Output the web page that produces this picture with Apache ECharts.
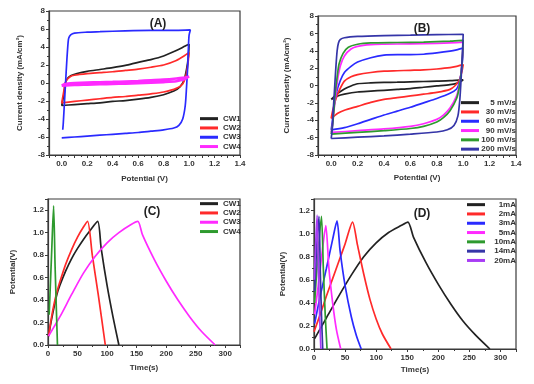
<!DOCTYPE html>
<html><head><meta charset="utf-8">
<script src="https://cdn.jsdelivr.net/npm/echarts@6/dist/echarts.min.js"></script>
<style>html,body{margin:0;padding:0;background:#fff}#c{width:534px;height:384px}</style>
</head><body><div id="c"></div>
<script>
// ---- Panel A: CV curves of CW1..CW4 (Potential V, Current density mA/cm2)
const A_names = ['CW1','CW2','CW3','CW4'];
const A_CW1 = [[0.02,-1.1],[0.025,-0.2],[0.04,0.4],[0.07,0.8],[0.12,1.05],[0.2,1.3],[0.3,1.5],[0.4,1.7],[0.5,1.95],[0.6,2.3],[0.7,2.6],[0.8,3.0],[0.9,3.6],[0.97,4.1],[1.0,4.3],[0.995,3.0],[0.98,1.5],[0.96,0.3],[0.93,-0.4],[0.88,-0.9],[0.8,-1.3],[0.7,-1.6],[0.6,-1.8],[0.5,-1.95],[0.4,-2.05],[0.3,-2.2],[0.2,-2.3],[0.1,-2.4],[0.0,-2.5],[0.01,-1.8],[0.02,-1.1]];
const A_CW2 = [[0.02,-0.6],[0.03,0.1],[0.05,0.5],[0.08,0.8],[0.14,0.95],[0.2,1.05],[0.3,1.15],[0.4,1.25],[0.5,1.4],[0.6,1.55],[0.7,1.75],[0.8,2.0],[0.9,2.5],[0.96,3.0],[1.0,3.4],[0.99,2.0],[0.975,0.8],[0.95,-0.1],[0.9,-0.6],[0.8,-1.0],[0.7,-1.2],[0.6,-1.35],[0.5,-1.5],[0.4,-1.6],[0.3,-1.75],[0.2,-1.9],[0.1,-2.05],[0.0,-2.2],[0.01,-1.4],[0.02,-0.6]];
const A_CW3 = [[0.0,-6.1],[0.1,-6.0],[0.2,-5.9],[0.3,-5.8],[0.4,-5.7],[0.5,-5.6],[0.6,-5.5],[0.7,-5.35],[0.8,-5.2],[0.88,-5.0],[0.92,-4.7],[0.95,-4.0],[0.97,-2.5],[0.98,-0.5],[0.99,2.0],[0.995,4.0],[1.0,5.3],[1.01,5.9],[0.9,5.85],[0.7,5.85],[0.5,5.8],[0.3,5.7],[0.2,5.65],[0.1,5.55],[0.07,5.35],[0.055,5.0],[0.05,4.5],[0.04,2.5],[0.03,0.0],[0.02,-2.5],[0.012,-4.5],[0.008,-5.2]];
const A_CW4 = [[0.0,-0.3],[0.02,-0.15],[0.05,-0.05],[0.1,0.0],[0.2,0.05],[0.3,0.08],[0.4,0.12],[0.5,0.17],[0.6,0.22],[0.7,0.3],[0.8,0.38],[0.9,0.5],[0.95,0.58],[1.0,0.7],[0.98,0.55],[0.95,0.35],[0.9,0.2],[0.8,0.1],[0.7,0.03],[0.6,-0.02],[0.5,-0.07],[0.4,-0.1],[0.3,-0.14],[0.2,-0.18],[0.1,-0.22],[0.0,-0.3]];

// ---- Panel B: CV curves at different scan rates
const B_names = ['5 mV/s','30 mV/s','60 mV/s','90 mV/s','100 mV/s','200 mV/s'];
const B_5 = [[0.0,-1.6],[0.02,-1.3],[0.05,-0.9],[0.1,-0.4],[0.15,-0.05],[0.2,0.2],[0.3,0.3],[0.4,0.35],[0.5,0.38],[0.6,0.42],[0.7,0.46],[0.8,0.5],[0.9,0.55],[1.0,0.65],[0.98,0.45],[0.95,0.25],[0.9,0.1],[0.8,-0.05],[0.7,-0.2],[0.6,-0.35],[0.5,-0.45],[0.4,-0.55],[0.3,-0.65],[0.2,-0.75],[0.1,-1.0],[0.05,-1.2],[0.0,-1.6]];
const B_30 = [[0.0,-3.8],[0.01,-3.0],[0.03,-1.8],[0.06,-0.6],[0.1,0.5],[0.15,1.0],[0.2,1.25],[0.3,1.5],[0.4,1.65],[0.5,1.7],[0.6,1.75],[0.7,1.8],[0.8,1.9],[0.9,2.05],[0.95,2.2],[1.0,2.4],[0.99,1.6],[0.97,0.6],[0.94,0.0],[0.9,-0.45],[0.8,-0.8],[0.7,-1.0],[0.6,-1.2],[0.5,-1.4],[0.4,-1.6],[0.3,-1.95],[0.2,-2.4],[0.1,-2.85],[0.05,-3.2],[0.0,-3.8]];
const B_60 = [[0.0,-5.1],[0.01,-4.0],[0.02,-2.5],[0.04,-0.8],[0.07,0.6],[0.1,1.5],[0.15,2.2],[0.2,2.7],[0.3,3.2],[0.4,3.5],[0.5,3.55],[0.6,3.55],[0.7,3.6],[0.8,3.75],[0.9,3.95],[0.95,4.1],[1.0,4.3],[0.995,3.0],[0.985,1.5],[0.97,0.3],[0.95,-0.4],[0.9,-0.9],[0.8,-1.5],[0.7,-2.0],[0.6,-2.5],[0.5,-2.95],[0.4,-3.4],[0.3,-3.9],[0.2,-4.4],[0.1,-4.85],[0.0,-5.1]];
const B_90 = [[0.0,-5.4],[0.01,-4.5],[0.02,-3.0],[0.035,-1.0],[0.05,0.8],[0.07,2.3],[0.1,3.4],[0.15,4.2],[0.2,4.5],[0.3,4.7],[0.4,4.75],[0.6,4.8],[0.8,4.85],[0.9,4.9],[1.0,5.0],[0.995,3.5],[0.985,1.5],[0.97,0.0],[0.95,-1.2],[0.9,-2.6],[0.85,-3.4],[0.8,-3.9],[0.7,-4.4],[0.6,-4.7],[0.4,-5.0],[0.2,-5.2],[0.0,-5.4]];
const B_100 = [[0.0,-5.6],[0.01,-4.6],[0.02,-3.0],[0.03,-1.0],[0.045,1.0],[0.06,2.5],[0.09,3.7],[0.13,4.4],[0.2,4.75],[0.3,4.9],[0.5,4.95],[0.7,5.0],[0.9,5.1],[1.0,5.2],[0.995,3.5],[0.985,1.5],[0.97,-0.2],[0.95,-1.5],[0.9,-2.9],[0.85,-3.7],[0.8,-4.2],[0.7,-4.7],[0.6,-4.95],[0.4,-5.2],[0.2,-5.4],[0.0,-5.6]];
const B_200 = [[0.0,-6.1],[0.2,-5.95],[0.4,-5.8],[0.6,-5.6],[0.8,-5.35],[0.88,-5.1],[0.93,-4.6],[0.96,-3.5],[0.975,-1.5],[0.985,1.0],[0.995,4.0],[1.0,5.9],[0.8,5.85],[0.6,5.8],[0.4,5.75],[0.2,5.65],[0.1,5.5],[0.07,5.3],[0.055,4.9],[0.045,4.0],[0.035,2.0],[0.025,-0.5],[0.015,-3.0],[0.008,-5.0],[0.0,-6.1]];

// ---- Panel C: GCD curves of CW1..CW4 (Time s, Potential V)
const C_CW1 = [[1,0.08],[5,0.2],[10,0.33],[15,0.45],[20,0.53],[30,0.66],[40,0.77],[50,0.86],[60,0.94],[70,1.01],[84,1.1],[90,0.86],[100,0.53],[110,0.25],[120,0.0]];
const C_CW2 = [[1,0.08],[5,0.22],[10,0.36],[15,0.47],[20,0.56],[30,0.72],[40,0.85],[50,0.96],[60,1.05],[67,1.1],[75,0.8],[85,0.45],[97,0.0]];
const C_CW3 = [[1,0.08],[20,0.25],[40,0.45],[60,0.64],[80,0.79],[100,0.91],[120,1.0],[140,1.07],[152,1.1],[160,0.98],[180,0.76],[200,0.57],[220,0.4],[240,0.25],[260,0.12],[283,0.0]];
const C_CW4 = [[2,0.27],[6,0.8],[9.5,1.24],[12,0.7],[16,0.0]];

// ---- Panel D: GCD at different currents
const D_names = ['1mA','2mA','3mA','5mA','10mA','14mA','20mA'];
const D_1 = [[1,0.09],[20,0.27],[40,0.46],[60,0.64],[80,0.8],[100,0.92],[120,1.01],[140,1.07],[151,1.1],[160,0.97],[180,0.75],[200,0.56],[220,0.39],[240,0.24],[260,0.12],[283,0.0]];
const D_2 = [[0,0.15],[10,0.3],[20,0.46],[30,0.61],[40,0.76],[50,0.91],[62,1.1],[70,0.9],[80,0.65],[90,0.43],[100,0.26],[110,0.13],[124,0.0]];
const D_3 = [[1,0.22],[10,0.46],[20,0.7],[30,0.95],[37,1.11],[42,0.85],[50,0.55],[60,0.28],[68,0.12],[76,0.0]];
const D_5 = [[1,0.3],[8,0.6],[14,0.88],[19,1.07],[24,0.7],[30,0.4],[36,0.17],[43,0.0]];
const D_10 = [[1,0.4],[6,0.8],[12,1.15],[15,0.7],[18,0.3],[21,0.0]];
const D_14 = [[1,0.5],[4,0.85],[8,1.15],[10,0.7],[12,0.3],[14,0.0]];
const D_20 = [[0.5,0.6],[3,0.95],[5,1.16],[7,0.7],[9,0.3],[11,0.0]];

const FONT = 'Liberation Sans, Arial, sans-serif';
const AX = '#3a3a3a';
const BLK='#222222', RED='#ff2a2a', BLU='#2a2aff', MAG='#ff2aff', GRN='#2e9a2e', NAV='#3535a8', PUR='#a83cf5';
const A_colors = [BLK,RED,BLU,MAG];
const B_colors = [BLK,RED,BLU,MAG,GRN,NAV];
const C_colors = [BLK,RED,MAG,GRN];
const D_colors = [BLK,RED,BLU,MAG,GRN,NAV,PUR];

function grid(l,t,w,h){return {left:l,top:t,width:w,height:h,show:true,borderColor:AX,borderWidth:1.2,backgroundColor:'#fff'};}
function xAx(gi,min,max,interval,name,gap,fmt){
  return {type:'value',gridIndex:gi,min:min,max:max,interval:interval,name:name,nameLocation:'middle',nameGap:gap,
    nameTextStyle:{fontFamily:FONT,fontWeight:'bold',fontSize:8,color:'#333'},
    axisLine:{show:true,onZero:false,lineStyle:{color:AX,width:1.2}},
    axisTick:{show:true,inside:false,length:3,lineStyle:{color:AX}},
    minorTick:{show:true,splitNumber:2,length:2,lineStyle:{color:AX}},
    splitLine:{show:false},
    axisLabel:{interval:0,fontFamily:FONT,fontWeight:'bold',fontSize:8,color:'#333',margin:5,formatter:fmt}};
}
function yAx(gi,min,max,interval,name,gap,fmt){
  return {type:'value',gridIndex:gi,min:min,max:max,interval:interval,name:name,nameLocation:'middle',nameGap:gap,
    nameTextStyle:{fontFamily:FONT,fontWeight:'bold',fontSize:8,color:'#333'},
    axisLine:{show:true,onZero:false,lineStyle:{color:AX,width:1.2}},
    axisTick:{show:true,inside:false,length:3,lineStyle:{color:AX}},
    minorTick:{show:true,splitNumber:2,length:2,lineStyle:{color:AX}},
    splitLine:{show:false},
    axisLabel:{fontFamily:FONT,fontWeight:'bold',fontSize:8,color:'#333',margin:4,formatter:fmt}};
}
const fmtCV_X = v => { if (v < -0.001) return ''; const k = Math.round(v*10); return (k%2===0) ? (k/10).toFixed(1) : ''; };
const fmtInt = v => String(Math.round(v));
const fmtV = v => v > 1.25 ? '' : v.toFixed(1);
const fmtT = v => v > 310 ? '' : String(Math.round(v));

function ser(name,data,color,gi,w){
  return {type:'line',name:name,data:data,xAxisIndex:gi,yAxisIndex:gi,showSymbol:false,symbol:'none',
    smooth:0.25,lineStyle:{color:color,width:w||1.7},itemStyle:{color:color},z:3};
}
function legend(names,colors,left,top,right,w){
  const o = {data:names.map((n,i)=>({name:n,itemStyle:{color:colors[i]}})),orient:'vertical',icon:'rect',itemWidth:18,itemHeight:3,itemGap:0,
    top:top,left:left,textStyle:{fontFamily:FONT,fontWeight:'bold',fontSize:8,color:'#333',lineHeight:9.3},padding:0};
  if (right) { o.formatter = n => '{a|' + n + '}'; o.textStyle.rich = {a:{width:w,align:'right',fontFamily:FONT,fontWeight:'bold',fontSize:8,color:'#333',lineHeight:9.3}}; }
  return o;
}

const option = {
  animation:false,
  backgroundColor:'#ffffff',
  grid:[grid(49,11,191,144), grid(318,16,198,139), grid(48,199,192,146), grid(314,199,202,150)],
  xAxis:[
    xAx(0,-0.1,1.4,0.1,'Potential (V)',20,fmtCV_X),
    xAx(1,-0.1,1.4,0.1,'Potential (V)',19,fmtCV_X),
    xAx(2,0,325,50,'Time(s)',19,fmtT),
    xAx(3,0,325,50,'Time(s)',17,fmtT)
  ],
  yAxis:[
    yAx(0,-8,8,2,'Current density (mA/cm\u00b2)',25,fmtInt),
    yAx(1,-8,8,2,'Current density (mA/cm\u00b2)',27,fmtInt),
    yAx(2,0,1.3,0.2,'Potential(V)',31,fmtV),
    yAx(3,0,1.3,0.2,'Potential(V)',27,fmtV)
  ],
  title:[
    {text:'(A)',left:153,top:13,textAlign:'center',textStyle:{fontFamily:FONT,fontWeight:'bold',fontSize:12,color:'#222'}},
    {text:'(B)',left:417,top:18,textAlign:'center',textStyle:{fontFamily:FONT,fontWeight:'bold',fontSize:12,color:'#222'}},
    {text:'(C)',left:147,top:201,textAlign:'center',textStyle:{fontFamily:FONT,fontWeight:'bold',fontSize:12,color:'#222'}},
    {text:'(D)',left:417,top:203,textAlign:'center',textStyle:{fontFamily:FONT,fontWeight:'bold',fontSize:12,color:'#222'}}
  ],
  legend:[
    legend(A_names,A_colors,200,114,false),
    legend(B_names,B_colors,461,98,true,32),
    legend(A_names,C_colors,200,199,false),
    legend(D_names,D_colors,467,200,true,26)
  ],
  series:[
    ser('CW1',A_CW1,BLK,0), ser('CW2',A_CW2,RED,0), ser('CW3',A_CW3,BLU,0), ser('CW4',A_CW4,MAG,0,2.6),
    ser('5 mV/s',B_5,BLK,1), ser('30 mV/s',B_30,RED,1), ser('60 mV/s',B_60,BLU,1),
    ser('90 mV/s',B_90,MAG,1), ser('100 mV/s',B_100,GRN,1), ser('200 mV/s',B_200,NAV,1),
    ser('CW1',C_CW1,BLK,2), ser('CW2',C_CW2,RED,2), ser('CW3',C_CW3,MAG,2), ser('CW4',C_CW4,GRN,2),
    ser('1mA',D_1,BLK,3), ser('2mA',D_2,RED,3), ser('3mA',D_3,BLU,3), ser('5mA',D_5,MAG,3),
    ser('10mA',D_10,GRN,3), ser('14mA',D_14,NAV,3), ser('20mA',D_20,PUR,3)
  ]
};
const chart = echarts.init(document.getElementById('c'), null, {renderer:'canvas'});
chart.setOption(option);
</script></body></html>
